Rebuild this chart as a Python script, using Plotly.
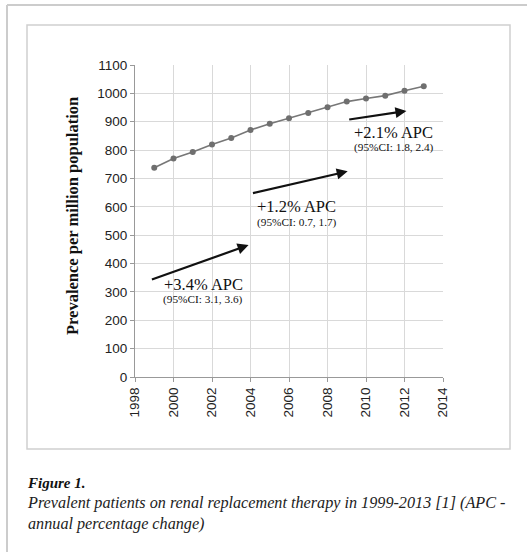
import plotly.graph_objects as go

years = [1999, 2000, 2001, 2002, 2003, 2004, 2005, 2006, 2007, 2008, 2009, 2010, 2011, 2012, 2013]
prevalence = [738, 770, 793, 820, 843, 871, 893, 912, 931, 951, 971, 982, 992, 1009, 1025]

# APC trend arrows (start and end in data units)
arrow_x0 = [1998.8, 2004.05, 2009.05]
arrow_y0 = [342, 647, 907]
arrow_x1 = [2003.9, 2009.05, 2012.1]
arrow_y1 = [465, 725, 938]
apc_labels = ["+3.4% APC", "+1.2% APC", "+2.1% APC"]
ci_labels = ["(95%CI: 3.1, 3.6)", "(95%CI: 0.7, 1.7)", "(95%CI: 1.8, 2.4)"]
label_x = [2001.55, 2006.4, 2011.45]
label_y = [327, 602, 862]
ci_y = [272, 546, 808]

y_ticks = list(range(0, 1101, 100))
x_ticks = list(range(1998, 2015, 2))

W, H = 527, 552
L, R, T, B = 135, 443, 65, 377


def px(x):
    return (x - L) / (R - L)


def py(y):
    return (B - y) / (B - T)


fig = go.Figure()
fig.add_trace(go.Scatter(
    x=years, y=prevalence, mode="lines+markers",
    line=dict(color="#777777", width=1.6),
    marker=dict(color="#6f6f6f", size=6),
    showlegend=False, hoverinfo="skip",
))

annotations = []
for i in range(3):
    annotations.append(dict(
        x=arrow_x1[i], y=arrow_y1[i], ax=arrow_x0[i], ay=arrow_y0[i],
        xref="x", yref="y", axref="x", ayref="y", text="",
        showarrow=True, arrowhead=2, arrowsize=1.0, arrowwidth=2.2,
        arrowcolor="#111111", standoff=0,
    ))
    annotations.append(dict(
        x=label_x[i], y=label_y[i], xref="x", yref="y", xanchor="center", yanchor="middle",
        text=apc_labels[i], showarrow=False,
        font=dict(family="Liberation Serif", size=16.5, color="#111111"),
    ))
    annotations.append(dict(
        x=label_x[i], y=ci_y[i], xref="x", yref="y", xanchor="center", yanchor="middle",
        text=ci_labels[i], showarrow=False,
        font=dict(family="Liberation Serif", size=11.3, color="#111111"),
    ))

annotations.append(dict(
    x=px(73), y=py(216), xref="paper", yref="paper", textangle=-90,
    text="<b>Prevalence per million population</b>", showarrow=False,
    xanchor="center", yanchor="middle",
    font=dict(family="Liberation Serif", size=16.5, color="#111111"),
))
annotations.append(dict(
    x=px(25), y=py(483), xref="paper", yref="paper", xanchor="left", yanchor="middle",
    text="<b><i>Figure 1.</i></b>", showarrow=False,
    font=dict(family="Liberation Serif", size=15, color="#111111"),
))
annotations.append(dict(
    x=px(25), y=py(513), xref="paper", yref="paper", xanchor="left", yanchor="middle",
    text="<i>Prevalent patients on renal replacement therapy in 1999-2013 [1] (APC -<br>annual percentage change)</i>",
    showarrow=False, align="left",
    font=dict(family="Liberation Serif", size=16.2, color="#222222"),
))

shapes = [
    # page frame
    dict(type="line", xref="paper", yref="paper", x0=px(7), x1=px(7), y0=py(5), y1=py(552),
         line=dict(color="#cccccc", width=2)),
    dict(type="line", xref="paper", yref="paper", x0=px(7), x1=px(527), y0=py(5), y1=py(5),
         line=dict(color="#cccccc", width=2)),
    # chart box
    dict(type="rect", xref="paper", yref="paper", x0=px(27), x1=px(510), y0=py(449), y1=py(25),
         line=dict(color="#d0d0d0", width=1.5), fillcolor="rgba(0,0,0,0)", layer="below"),
]

fig.update_layout(
    width=W, height=H,
    margin=dict(l=L, r=W - R, t=T, b=H - B),
    paper_bgcolor="white", plot_bgcolor="white",
    annotations=annotations, shapes=shapes,
    xaxis=dict(range=[1998, 2014], tickvals=x_ticks, tickangle=-90,
               showgrid=True, gridcolor="#d9d9d9", gridwidth=1,
               showline=True, linecolor="#999999", linewidth=1,
               ticks="outside", ticklen=4, tickcolor="#999999",
               tickfont=dict(family="Liberation Sans", size=13.5, color="#222222"),
               zeroline=False, mirror=False),
    yaxis=dict(range=[0, 1100], tickvals=y_ticks,
               showgrid=True, gridcolor="#d9d9d9", gridwidth=1,
               showline=True, linecolor="#999999", linewidth=1,
               ticks="outside", ticklen=4, tickcolor="#999999",
               tickfont=dict(family="Liberation Sans", size=13.5, color="#222222"),
               zeroline=False),
)

fig.write_html("out.html", post_script="document.body.style.margin='0';",
               config={"displayModeBar": False})
